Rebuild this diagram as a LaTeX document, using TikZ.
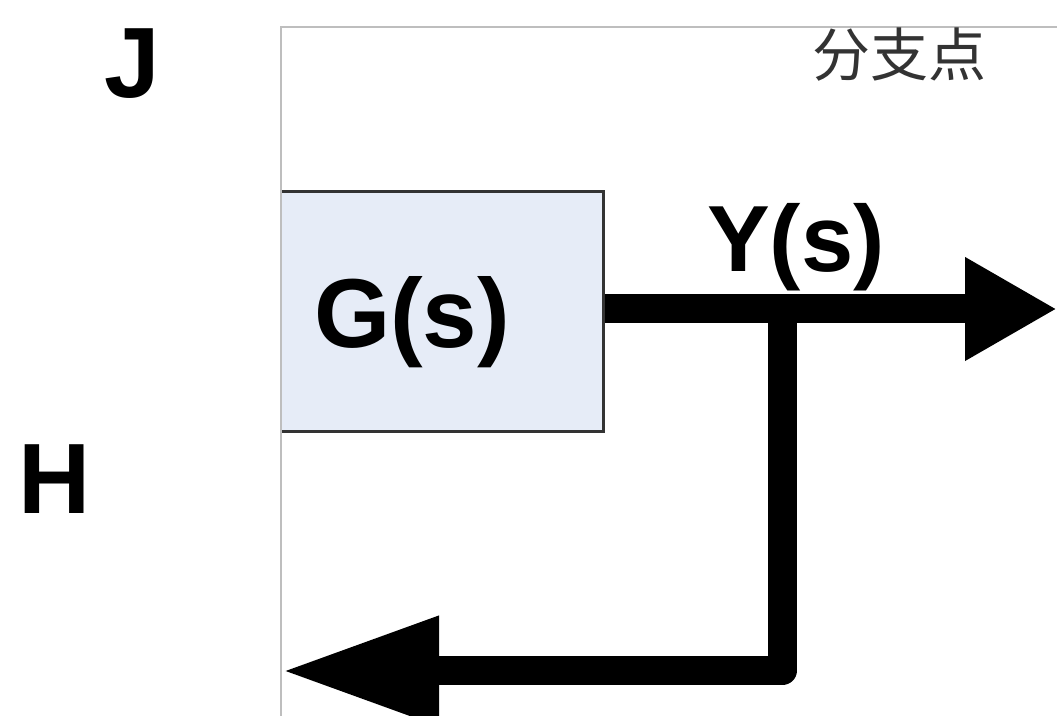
\documentclass[tikz,border=0pt]{standalone}
\usepackage{fontspec}
\setmainfont{Liberation Sans}
\newfontfamily\cjk{Noto Sans CJK SC}
\usetikzlibrary{arrows.meta}
\definecolor{blockfill}{RGB}{230,236,247}
\definecolor{framegray}{RGB}{190,190,190}
\begin{document}
\begin{tikzpicture}[x=.5pt, y=-.5pt,
	block/.style={draw=black!80, line width=1.5pt, fill=blockfill, minimum width=191pt, minimum height=120pt, inner sep=0pt, text depth=0pt, font=\fontsize{49}{50}\selectfont\bfseries},
	signal/.style={line width=14.5pt, line join=round},
	letter/.style={inner sep=0pt, anchor=base, font=\fontsize{50}{52}\selectfont\bfseries}]
	\useasboundingbox (0,0) rectangle (1057,716);
	%letters
	\node[letter] (J) at (132,98) {J};
	\node[letter] (H) at (55,514) {H};
	%block, cut at the frame
	\begin{scope}
		\clip (281,0) rectangle (1057,716);
		\node[block] (G) at (412,312) {G(s)};
	\end{scope}
	%frame
	\draw[framegray, line width=.75pt] (1057,27) -- (281,27) -- (281,716);
	%signals
	\coordinate (branch) at (782,309);
	\coordinate (out) at (1057,309);
	\coordinate (corner) at (782,671);
	\coordinate (back) at (281,671);
	\draw[signal, -{Triangle[length=46pt, width=48.5pt]}] (G.east |- branch) -- (out);
	\draw[signal, -{Triangle[length=79pt, width=51pt]}] (branch) -- (corner) -- (back);
	%labels
	\node[anchor=base, inner sep=0pt, font=\fontsize{47}{48}\selectfont\bfseries] (Y) at (796,272) {Y(s)};
	\node[inner sep=0pt, text=black!80, font=\cjk\fontsize{29}{30}\selectfont] (bp) at (899,55) {分支点};
\end{tikzpicture}
\end{document}
